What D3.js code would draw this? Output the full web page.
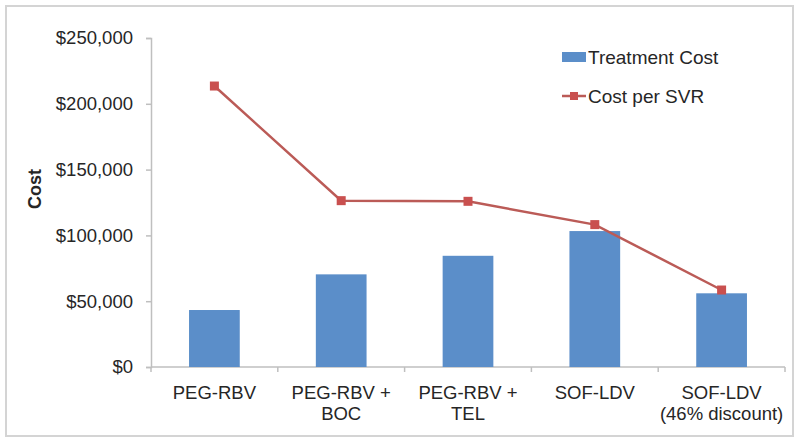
<!DOCTYPE html>
<html>
<head>
<meta charset="utf-8">
<script src="https://cdn.jsdelivr.net/npm/d3@7"></script>
<style>
  html, body { margin: 0; padding: 0; background: #fff; }
  svg { display: block; font-family: "Liberation Sans", Arial, sans-serif; }
</style>
</head>
<body>
<svg id="chart" width="800" height="443"></svg>
<script>
const categories = ["PEG-RBV", "PEG-RBV + BOC", "PEG-RBV + TEL", "SOF-LDV", "SOF-LDV (46% discount)"];
const categoryLines = [["PEG-RBV"], ["PEG-RBV +", "BOC"], ["PEG-RBV +", "TEL"], ["SOF-LDV"], ["SOF-LDV", "(46% discount)"]];
const treatmentCost = [43300, 70400, 84500, 103300, 56000];
const costPerSVR = [213500, 126400, 125900, 108200, 58500];
const yTicks = [0, 50000, 100000, 150000, 200000, 250000];
const seriesNames = ["Treatment Cost", "Cost per SVR"];

const svg = d3.select("#chart");
const textColor = "#262626";
const axisColor = "#bfbfbf";
const barColor = "#5b8ec9";
const lineColor = "#bb5b57";

// outer frame
svg.append("rect").attr("x", 6).attr("y", 6).attr("width", 787).attr("height", 430)
  .attr("fill", "#fff").attr("stroke", "#d4d4d4").attr("stroke-width", 2);

const y = d3.scaleLinear().domain([0, 250000]).range([367, 38]);
const x = d3.scaleBand().domain(categories).range([151, 785]).paddingInner(0.6).paddingOuter(0.3);

// y axis
const yAxis = d3.axisLeft(y).tickValues(yTicks).tickSize(5).tickPadding(13)
  .tickFormat(d => "$" + d3.format(",")(d));
const yg = svg.append("g").attr("transform", "translate(151,0)").call(yAxis);
yg.select(".domain").attr("stroke", axisColor).attr("stroke-width", 1.5);
yg.selectAll(".tick line").attr("stroke", axisColor).attr("stroke-width", 1.5);
yg.selectAll(".tick text").attr("fill", textColor).style("font-size", "18.5px")
  .style("font-family", "Liberation Sans, Arial, sans-serif");

// x axis line and boundary ticks
svg.append("line").attr("x1", 151).attr("x2", 785).attr("y1", y(0)).attr("y2", y(0))
  .attr("stroke", axisColor).attr("stroke-width", 1.5);
const step = x.step();
const bounds = d3.range(categories.length + 1).map(i => x(categories[0]) - x.paddingOuter() * step + i * step);
svg.selectAll(".xb").data(bounds).join("line")
  .attr("x1", d => d).attr("x2", d => d).attr("y1", y(0)).attr("y2", y(0) + 5)
  .attr("stroke", axisColor).attr("stroke-width", 1.5);

// bars
svg.selectAll(".bar").data(categories).join("rect")
  .attr("x", d => x(d)).attr("width", x.bandwidth())
  .attr("y", (d, i) => y(treatmentCost[i]))
  .attr("height", (d, i) => y(0) - y(treatmentCost[i]))
  .attr("fill", barColor);

// line
const cx = d => x(d) + x.bandwidth() / 2;
const line = d3.line().x((d, i) => cx(categories[i])).y(d => y(d));
svg.append("path").datum(costPerSVR).attr("d", line)
  .attr("fill", "none").attr("stroke", lineColor).attr("stroke-width", 2.5);
svg.selectAll(".mk").data(costPerSVR).join("rect")
  .attr("x", (d, i) => cx(categories[i]) - 4.5).attr("y", d => y(d) - 4.5)
  .attr("width", 9).attr("height", 9).attr("fill", "#c9504f");

// x labels
const xl = svg.append("g");
categories.forEach((c, i) => {
  const t = xl.append("text").attr("x", cx(c)).attr("y", 399).attr("text-anchor", "middle")
    .attr("fill", textColor).style("font-size", "18.5px");
  categoryLines[i].forEach((ln, j) => {
    t.append("tspan").attr("x", cx(c)).attr("dy", j === 0 ? 0 : 21).text(ln);
  });
});

// y title
svg.append("text").attr("transform", "translate(41,189) rotate(-90)")
  .attr("text-anchor", "middle").attr("fill", textColor)
  .style("font-size", "18px").style("font-weight", "bold").text("Cost");

// legend
const lg = svg.append("g");
lg.append("rect").attr("x", 562).attr("y", 52).attr("width", 24).attr("height", 10).attr("fill", barColor);
lg.append("text").attr("x", 588).attr("y", 64).attr("fill", textColor).style("font-size", "19px").text(seriesNames[0]);
lg.append("line").attr("x1", 562).attr("x2", 586).attr("y1", 96).attr("y2", 96)
  .attr("stroke", lineColor).attr("stroke-width", 2.5);
lg.append("rect").attr("x", 570).attr("y", 92).attr("width", 8).attr("height", 8).attr("fill", "#c9504f");
lg.append("text").attr("x", 588).attr("y", 103).attr("fill", textColor).style("font-size", "19px").text(seriesNames[1]);
</script>
</body>
</html>
